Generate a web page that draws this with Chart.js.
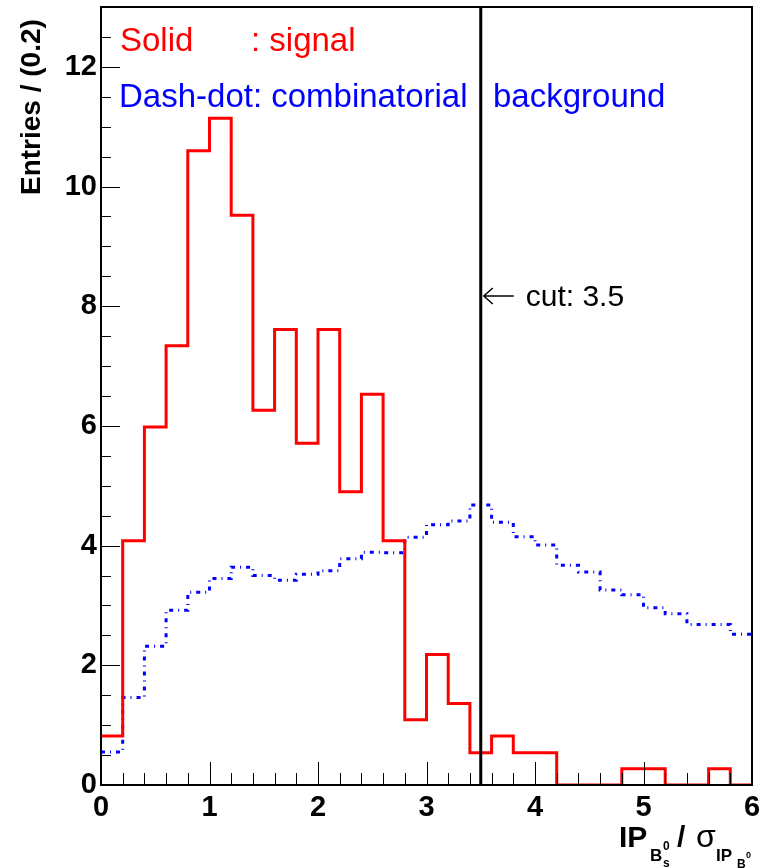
<!DOCTYPE html>
<html>
<head>
<meta charset="utf-8">
<script src="https://cdn.jsdelivr.net/npm/chart.js@4.4.0/dist/chart.umd.min.js"></script>
<style>
  html, body { margin: 0; padding: 0; background: #fff; }
  #ipChart { display: block; }
</style>
</head>
<body>
<canvas id="ipChart" width="765" height="868"></canvas>
<script>
// histogram bins (low edges), bin width 0.2
var binEdges = [0.0, 0.2, 0.4, 0.6, 0.8, 1.0, 1.2, 1.4, 1.6, 1.8,
                2.0, 2.2, 2.4, 2.6, 2.8, 3.0, 3.2, 3.4, 3.6, 3.8,
                4.0, 4.2, 4.4, 4.6, 4.8, 5.0, 5.2, 5.4, 5.6, 5.8];
var binWidth = 0.2;

// signal (solid red)
var signalEntries = [0.82, 4.08, 5.98, 7.34, 10.60, 11.14, 9.52, 6.26, 7.61, 5.71,
                     7.61, 4.90, 6.53, 4.08, 1.09, 2.18, 1.36, 0.54, 0.82, 0.54,
                     0.54, 0.00, 0.00, 0.00, 0.27, 0.27, 0.00, 0.00, 0.27, 0.00];

// combinatorial background (blue dash-dot)
var backgroundEntries = [0.55, 1.46, 2.32, 2.92, 3.22, 3.45, 3.64, 3.50, 3.42, 3.52,
                         3.58, 3.78, 3.89, 3.88, 4.14, 4.35, 4.41, 4.68, 4.39, 4.15,
                         4.01, 3.67, 3.56, 3.26, 3.18, 2.96, 2.86, 2.68, 2.68, 2.52];

var xTickValues = [0, 1, 2, 3, 4, 5, 6];
var yTickValues = [0, 2, 4, 6, 8, 10, 12];
var cutValue = 3.5;

var FONT = "'Liberation Sans', Arial, Helvetica, sans-serif";

// turn bin contents into step points, closing the last bin at its upper edge
function histPoints(values) {
    var pts = values.map(function (v, i) {
        return { x: binEdges[i], y: v };
    });
    pts.push({ x: binEdges[binEdges.length - 1] + binWidth, y: values[values.length - 1] });
    return pts;
}

function keepTicks(list) {
    return function (scale) {
        scale.ticks = list.map(function (v) { return { value: v }; });
    };
}

// ROOT-like frame: box, inward ticks, cut line and text
var frameDecor = {
    id: 'frameDecor',
    afterDatasetsDraw: function (chart) {
        var ctx = chart.ctx;
        var a = chart.chartArea;
        var xs = chart.scales.x;
        var ys = chart.scales.y;
        var v, px, py, i;

        ctx.save();
        ctx.strokeStyle = '#000';

        // cut line
        var cx = xs.getPixelForValue(cutValue);
        ctx.lineWidth = 3;
        ctx.beginPath();
        ctx.moveTo(cx, a.top);
        ctx.lineTo(cx, a.bottom);
        ctx.stroke();

        // frame
        ctx.lineWidth = 2;
        ctx.strokeRect(a.left, a.top, a.right - a.left, a.bottom - a.top);

        // x ticks (major every 1, minor every 0.2)
        ctx.lineWidth = 1;
        ctx.beginPath();
        for (i = 0; i <= 30; i++) {
            v = i * 0.2;
            px = Math.round(xs.getPixelForValue(v)) + 0.5;
            var len = (i % 5 === 0) ? 23 : 12;
            ctx.moveTo(px, a.bottom);
            ctx.lineTo(px, a.bottom - len);
        }
        // y ticks (major every 2, minor every 0.5)
        for (i = 0; i <= 25; i++) {
            v = i * 0.5;
            py = Math.round(ys.getPixelForValue(v)) + 0.5;
            var ylen = (i % 4 === 0) ? 19 : 10;
            ctx.moveTo(a.left, py);
            ctx.lineTo(a.left + ylen, py);
        }
        ctx.stroke();

        // arrow pointing at the cut
        var ay = 296;
        ctx.lineWidth = 1.5;
        ctx.beginPath();
        ctx.moveTo(cx + 3, ay);
        ctx.lineTo(cx + 33, ay);
        ctx.moveTo(cx + 12, ay - 8);
        ctx.lineTo(cx + 3, ay);
        ctx.lineTo(cx + 12, ay + 8);
        ctx.stroke();

        ctx.fillStyle = '#000';
        ctx.font = '30px ' + FONT;
        ctx.textBaseline = 'alphabetic';
        ctx.textAlign = 'left';
        ctx.fillText('cut: 3.5', cx + 45, 306);

        // legend texts
        ctx.font = '33px ' + FONT;
        ctx.fillStyle = '#ff0000';
        ctx.fillText('Solid', a.left + 19, 51);
        ctx.fillText(': signal', 251, 51);
        ctx.fillStyle = '#0000ff';
        ctx.fillText('Dash-dot: combinatorial', a.left + 18, 107);
        ctx.fillText('background', 493, 107);

        ctx.restore();
    },
    afterDraw: function (chart) {
        var ctx = chart.ctx;
        ctx.save();
        ctx.fillStyle = '#000';
        ctx.textBaseline = 'alphabetic';

        // y title
        ctx.save();
        ctx.translate(40, 195);
        ctx.rotate(-Math.PI / 2);
        ctx.textAlign = 'left';
        ctx.font = 'bold 28px ' + FONT;
        ctx.fillText('Entries / (0.2)', 0, 0);
        ctx.restore();

        // x title: IP_{B_s^0} / sigma_{IP_{B_s^0}}
        ctx.textAlign = 'left';
        ctx.font = 'bold 30px ' + FONT;
        ctx.fillText('IP', 619, 847);
        ctx.font = 'bold 17px ' + FONT;
        ctx.fillText('B', 650, 861);
        ctx.font = 'bold 12px ' + FONT;
        ctx.fillText('0', 663, 850);
        ctx.fillText('s', 663, 867);
        ctx.font = 'bold 30px ' + FONT;
        ctx.fillText('/', 677, 847);
        ctx.font = '32px ' + FONT;
        ctx.fillText('\u03c3', 696, 847);
        ctx.font = 'bold 17px ' + FONT;
        ctx.fillText('IP', 716, 861);
        ctx.font = 'bold 12px ' + FONT;
        ctx.fillText('B', 737, 868);
        ctx.font = 'bold 9px ' + FONT;
        ctx.fillText('0', 746, 858);
        ctx.fillText('s', 746, 873);

        ctx.restore();
    }
};

var ctx = document.getElementById('ipChart').getContext('2d');
var ipChart = new Chart(ctx, {
    type: 'line',
    data: {
        datasets: [{
            label: 'signal',
            data: histPoints(signalEntries),
            borderColor: '#ff0000',
            borderWidth: 3,
            stepped: 'before',
            pointRadius: 0,
            fill: false
        }, {
            label: 'combinatorial background',
            data: histPoints(backgroundEntries),
            borderColor: '#0000ff',
            borderWidth: 3,
            borderDash: [4, 5, 1, 5],
            stepped: 'before',
            pointRadius: 0,
            fill: false
        }]
    },
    options: {
        responsive: false,
        animation: false,
        devicePixelRatio: 1,
        layout: {
            padding: { top: 7, right: 13, left: 0, bottom: 0 }
        },
        scales: {
            x: {
                type: 'linear',
                min: 0,
                max: 6,
                afterBuildTicks: keepTicks(xTickValues),
                afterFit: function (scale) {
                    scale.height = 83;
                    scale.paddingLeft = 0;
                    scale.paddingRight = 0;
                },
                grid: { display: false, drawTicks: false },
                border: { display: false },
                ticks: {
                    padding: 6,
                    color: '#000',
                    font: { family: FONT, size: 29, weight: 'bold' }
                }
            },
            y: {
                type: 'linear',
                min: 0,
                max: 13,
                afterBuildTicks: keepTicks(yTickValues),
                afterFit: function (scale) {
                    scale.width = 101;
                    scale.paddingTop = 0;
                    scale.paddingBottom = 0;
                },
                grid: { display: false, drawTicks: false },
                border: { display: false },
                ticks: {
                    padding: 4,
                    color: '#000',
                    font: { family: FONT, size: 29, weight: 'bold' }
                }
            }
        },
        plugins: {
            legend: { display: false },
            tooltip: { enabled: false },
            title: { display: false }
        }
    },
    plugins: [frameDecor]
});
</script>
</body>
</html>
